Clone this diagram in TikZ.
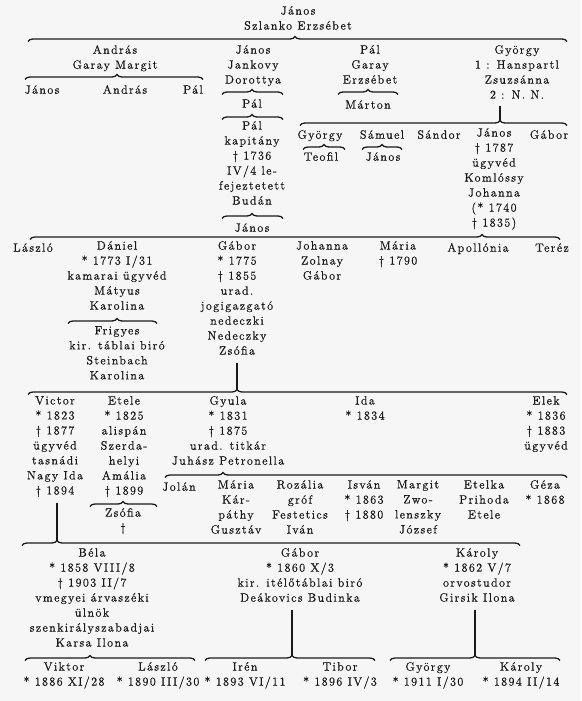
\documentclass[tikz,border=0pt]{standalone}
\usepackage{fontspec}
\setmainfont{lmroman12-regular.otf}[LetterSpace=12, FakeBold=0.9]
\usetikzlibrary{decorations.pathreplacing}
\definecolor{bgc}{RGB}{246,246,246}
\definecolor{ink}{RGB}{25,25,25}
\tikzset{
  p/.style={anchor=north, inner sep=0pt, align=center, text=ink,
    font=\fontsize{12}{15}\selectfont, yshift=7pt, execute at begin node=\strut},
  brc/.style={line width=1.3pt, draw=ink, decorate},
  vline/.style={line width=1.4pt, draw=ink},
}
% #1 x left, #2 x right, #3 y of bar, #4 x of tip, #5 name of tip
\newcommand\Gbrace[5]{%
  \pgfmathsetmacro\gasp{(#4-#1)/(#2-#1)}%
  \coordinate (#5-l) at (#1,#3+2.5);
  \coordinate (#5-r) at (#2,#3+2.5);
  \coordinate (#5) at (#4,#3-2.5);
  \draw[brc, decoration={brace, amplitude=5pt, aspect=\gasp}] (#5-l) -- (#5-r);}
\begin{document}
\begin{tikzpicture}[x=1pt,y=-1pt]
\fill[bgc] (0,0) rectangle (581,701);
\useasboundingbox (0,0) rectangle (581,701);

\node[p] (top) at (298,13) {János\\Szlanko Erzsébet};
\Gbrace{28}{567}{39}{295}{b0}

\node[p] (andras) at (115,52) {András\\Garay Margit};
\node[p] (janos1) at (253,52) {János\\Jankovy\\Dorottya};
\node[p] (pal1) at (370,52) {Pál\\Garay\\Erzsébet};
\node[p] (gyorgy1) at (517,52) {György\\1 : Hanspartl\\Zsuzsánna\\2 : N. N.};

\Gbrace{25}{203}{77}{117}{b1}
\node[p] (janosA) at (42,90) {János};
\node[p] (andrasA) at (125,90) {András};
\node[p] (palA) at (193,90) {Pál};

\Gbrace{222}{283}{92}{252}{b2}
\node[p] (pal2) at (252,104) {Pál};
\Gbrace{222}{283}{117}{252}{b3}
\node[p] (pal3) at (252,128) {Pál\\kapitány\\† 1736\\IV/4 le-\\fejeztetett\\Budán};
\Gbrace{222}{283}{216}{252}{b4}
\node[p] (janos3) at (252,228) {János};

\Gbrace{338}{398}{92}{368}{b5}
\node[p] (marton) at (368,105) {Márton};

\Gbrace{300}{567}{123}{500}{b6}
\draw[vline] ([yshift=-3pt]gyorgy1.south -| b6) -- (b6);
\node[p] (gyorgy2) at (320,135) {György};
\node[p] (samuel) at (382,135) {Sámuel};
\node[p] (sandor) at (439,135) {Sándor};
\node[p] (janos2) at (494,135) {János\\† 1787\\ügyvéd\\Komlóssy\\Johanna\\(* 1740\\† 1835)};
\node[p] (gabor2) at (549,135) {Gábor};
\Gbrace{303}{345}{147}{324}{b7}
\node[p] (teofil) at (321,157) {Teofil};
\Gbrace{362}{402}{147}{382}{b8}
\node[p] (janos4) at (383,157) {János};

\Gbrace{30}{560}{237}{482}{b9}
\node[p] (laszlo) at (33,248) {László};
\node[p] (daniel) at (117,248) {Dániel\\* 1773 I/31\\kamarai ügyvéd\\Mátyus\\Karolina};
\Gbrace{68}{157}{321}{117}{b10}
\node[p] (frigyes) at (117,333) {Frigyes\\kir. táblai biró\\Steinbach\\Karolina};
\node[p] (gabor3) at (237,248) {Gábor\\* 1775\\† 1855\\urad.\\jogigazgató\\nedeczki\\Nedeczky\\Zsófia};
\node[p] (johanna) at (322,248) {Johanna\\Zolnay\\Gábor};
\node[p] (maria) at (398,248) {Mária\\† 1790};
\node[p] (apollonia) at (478,248) {Apollónia};
\node[p] (terez) at (552,248) {Teréz};

\Gbrace{28}{567}{392}{237}{b11}
\draw[vline] ([yshift=-4pt]gabor3.south -| b11) -- (b11);
\node[p] (victor) at (55,403) {Victor\\* 1823\\† 1877\\ügyvéd\\tasnádi\\Nagy Ida\\† 1894};
\node[p] (etele) at (124,403) {Etele\\* 1825\\alispán\\Szerda-\\helyi\\Amália\\† 1899};
\node[p] (gyula) at (228,403) {Gyula\\* 1831\\† 1875\\urad. titkár\\Juhász Petronella};
\node[p] (ida) at (365,403) {Ida\\* 1834};
\node[p] (elek) at (546,403) {Elek\\* 1836\\† 1883\\ügyvéd};

\Gbrace{90}{157}{504}{123}{b13}
\node[p] (zsofia) at (123,515) {Zsófia\\†};

\Gbrace{165}{567}{475}{223}{b12}
\node[p] (jolan) at (179,487) {Jolán};
\node[p] (maria2) at (236,487) {Mária\\Kár-\\páthy\\Gusztáv};
\node[p] (rozalia) at (300,487) {Rozália\\gróf\\Festetics\\Iván};
\node[p] (isvan) at (364,487) {Isván\\* 1863\\† 1880};
\node[p] (margit) at (418,487) {Margit\\Zwo-\\lenszky\\József};
\node[p] (etelka) at (484,487) {Etelka\\Prihoda\\Etele};
\node[p] (geza) at (545,487) {Géza\\* 1868};

\Gbrace{22}{520}{543}{57}{b14}
\draw[vline] ([yshift=-4pt]victor.south -| b14) -- (b14);
\node[p] (bela) at (92,555) {Béla\\* 1858 VIII/8\\† 1903 II/7\\vmegyei árvaszéki\\ülnök\\szenkirályszabadjai\\Karsa Ilona};
\node[p] (gabor4) at (300,555) {Gábor\\* 1860 X/3\\kir. itélőtáblai biró\\Deákovics Budinka};
\node[p] (karoly) at (477,555) {Károly\\* 1862 V/7\\orvostudor\\Girsik Ilona};

\Gbrace{25}{195}{658}{90}{b15}
\Gbrace{205}{375}{658}{292}{b16}
\draw[vline] ([yshift=-4pt]gabor4.south -| b16) -- (b16);
\Gbrace{390}{560}{658}{475}{b17}
\draw[vline] ([yshift=-4pt]karoly.south -| b17) -- (b17);

\node[p] (viktor) at (64,669) {Viktor\\* 1886 XI/28};
\node[p] (laszlo2) at (158,669) {László\\* 1890 III/30};
\node[p] (iren) at (245,669) {Irén\\* 1893 VI/11};
\node[p] (tibor) at (340,669) {Tibor\\* 1896 IV/3};
\node[p] (gyorgy3) at (428,669) {György\\* 1911 I/30};
\node[p] (karoly2) at (521,669) {Károly\\* 1894 II/14};
\end{tikzpicture}
\end{document}
